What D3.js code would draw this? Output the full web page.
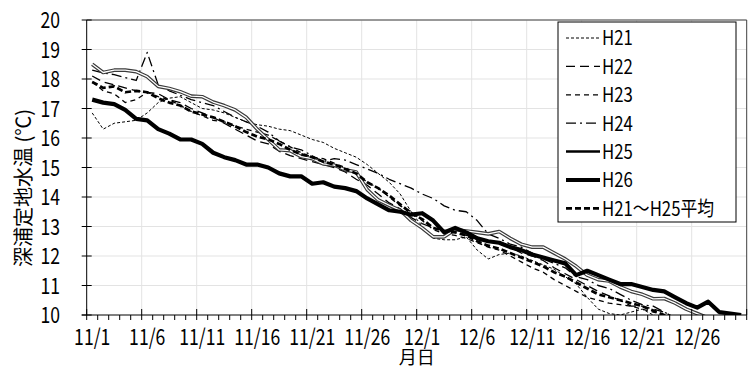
<!DOCTYPE html>
<html>
<head>
<meta charset="utf-8">
<script src="https://cdn.jsdelivr.net/npm/d3@7"></script>
<style>
  body { margin: 0; background: #fff; }
  svg { display: block; }
</style>
</head>
<body>
<div id="chart"></div>
<script>
var days = d3.range(1, 31).map(function (d) { return "11/" + d; })
  .concat(d3.range(1, 31).map(function (d) { return "12/" + d; }));

var yTicks = [10, 11, 12, 13, 14, 15, 16, 17, 18, 19, 20];

var h21 = [16.85, 16.3, 16.5, 16.55, 16.6, 16.85, 17.2, 17.35, 17.4, 17.2,
  17.0, 16.95, 16.85, 16.7, 16.55, 16.45, 16.4, 16.3, 16.25, 16.1,
  15.95, 15.85, 15.65, 15.5, 15.35, 15.1, 14.8, 14.5, 14.1, 13.5,
  13.0, 12.6, 12.55, 12.55, 12.65, 12.2, 11.9, 12.05, 12.1, 12.0,
  11.85, 11.7, 11.55, 11.3, 11.05, 10.6, 10.2, 10.05, 10.0, 10.1,
  10.2, 10.0, 9.9, 9.8, 9.8, 9.7, 9.6, 9.6, 9.5, 9.5];
var h22 = [18.1, 17.9, 17.8, 17.7, 17.6, 17.55, 17.5, 17.3, 17.2, 17.0,
  16.85, 16.7, 16.5, 16.3, 16.1, 15.9, 15.8, 15.55, 15.4, 15.3,
  15.2, 15.1, 15.0, 14.85, 14.6, 14.4, 14.1, 13.8, 13.6, 13.3,
  13.1, 12.95, 12.9, 12.85, 12.7, 12.6, 12.5, 12.4, 12.3, 12.1,
  12.0, 11.85, 11.6, 11.4, 11.2, 11.0, 10.8, 10.65, 10.5, 10.3,
  10.3, 10.2, 10.1, 9.9, 9.8, 9.7, 9.6, 9.5, 9.5, 9.4];
var h23 = [17.9, 17.6, 17.5, 17.2, 17.3, 17.55, 17.4, 17.3, 17.1, 16.9,
  16.75, 16.6, 16.55, 16.4, 16.3, 16.2, 16.1, 15.9, 15.7, 15.5,
  15.35, 15.3, 15.15, 15.0, 14.8, 14.5, 14.3, 14.0, 13.7, 13.5,
  13.2, 12.9, 12.75, 12.7, 12.6, 12.45, 12.3, 12.2, 12.0, 11.8,
  11.6, 11.45, 11.2, 11.0, 10.8, 10.6, 10.5, 10.4, 10.35, 10.3,
  10.2, 10.1, 10.0, 9.9, 9.8, 9.7, 9.6, 9.5, 9.5, 9.4];
var h24 = [18.3, 18.2, 18.15, 18.05, 17.95, 18.9, 17.8, 17.6, 17.45, 17.3,
  17.2, 17.1, 16.9, 16.7, 16.55, 16.4, 16.2, 15.9, 15.7, 15.6,
  15.4, 15.2, 15.3, 15.25, 15.1, 14.95, 14.8, 14.6, 14.45, 14.3,
  14.1, 13.95, 13.7, 13.55, 13.5, 13.2, 12.75, 12.6, 12.4, 12.3,
  12.1, 11.9, 11.75, 11.6, 11.3, 11.2, 11.0, 10.9, 10.7, 10.5,
  10.35, 10.3, 10.1, 9.9, 9.8, 9.7, 9.6, 9.5, 9.5, 9.4];
var h25 = [18.5, 18.22, 18.3, 18.3, 18.25, 18.08, 17.75, 17.68, 17.57, 17.42,
  17.4, 17.22, 17.1, 16.95, 16.7, 16.3, 15.95, 15.6, 15.57, 15.37,
  15.3, 15.12, 15.08, 14.92, 14.85, 14.25, 13.9, 13.72, 13.55, 13.2,
  12.95, 12.65, 12.65, 12.9, 12.85, 12.8, 12.75, 12.83, 12.6, 12.4,
  12.3, 12.3, 12.1, 11.9, 11.65, 11.35, 11.2, 11.15, 10.95, 10.8,
  10.7, 10.55, 10.56, 10.4, 10.2, 10.05, 9.9, 9.8, 9.7, 9.6];
var h26 = [17.3, 17.2, 17.15, 16.95, 16.65, 16.6, 16.3, 16.15, 15.95, 15.95,
  15.8, 15.5, 15.35, 15.25, 15.1, 15.1, 15.0, 14.8, 14.7, 14.7,
  14.45, 14.5, 14.35, 14.3, 14.2, 13.95, 13.75, 13.55, 13.5, 13.4,
  13.45, 13.2, 12.8, 12.95, 12.8, 12.6, 12.5, 12.45, 12.3, 12.2,
  12.05, 11.95, 11.85, 11.75, 11.35, 11.5, 11.35, 11.2, 11.05, 11.05,
  10.95, 10.85, 10.8, 10.6, 10.4, 10.25, 10.45, 10.1, 10.05, 10.0];
var avg = [17.9, 17.7, 17.75, 17.55, 17.6, 17.55, 17.35, 17.2, 17.1, 16.9,
  16.8, 16.7, 16.55, 16.4, 16.2, 16.05, 15.95, 15.8, 15.6, 15.45,
  15.35, 15.2, 15.1, 14.95, 14.8, 14.5, 14.3, 14.05, 13.75, 13.45,
  13.25, 12.95, 12.85, 12.8, 12.7, 12.5, 12.35, 12.25, 12.1, 11.95,
  11.8, 11.65, 11.45, 11.3, 11.1, 10.9, 10.7, 10.6, 10.5, 10.4,
  10.3, 10.15, 10.0, 9.9, 9.8, 9.7, 9.6, 9.5, 9.5, 9.4];

var seriesNames = ["H21", "H22", "H23", "H24", "H25", "H26", "H21\uFF5EH25\u5E73\u5747"];
var seriesValues = [h21, h22, h23, h24, h25, h26, avg];

var width = 752, height = 368;
var plotL = 86.7, plotR = 746.7, plotT = 20, plotB = 315;
var font = "'Noto Sans CJK JP', 'Noto Sans', sans-serif";
var squeeze = 0.8; // narrow half-width digits like the original gothic face

var svg = d3.select("#chart").append("svg")
  .attr("width", width)
  .attr("height", height);

var x = d3.scaleBand().domain(days).range([plotL, plotR]).padding(0);
var y = d3.scaleLinear().domain([10, 20]).range([plotB, plotT]);
function cx(i) { return x(days[i]) + x.bandwidth() / 2; }

svg.append("defs").append("clipPath").attr("id", "plotClip")
  .append("rect")
  .attr("x", plotL).attr("y", plotT)
  .attr("width", plotR - plotL).attr("height", plotB - plotT);

// horizontal gridlines
svg.selectAll(".hgrid").data(yTicks.slice(1)).enter().append("line")
  .attr("x1", plotL).attr("x2", plotR)
  .attr("y1", function (d) { return y(d); }).attr("y2", function (d) { return y(d); })
  .style("stroke", "#e3e3e3").style("stroke-width", "1px");

// vertical gridlines every 5 days
var majorIdx = d3.range(5, 60, 5);
svg.selectAll(".vgrid").data(majorIdx).enter().append("line")
  .attr("x1", function (i) { return x(days[i]); }).attr("x2", function (i) { return x(days[i]); })
  .attr("y1", plotT).attr("y2", plotB)
  .style("stroke", "#e3e3e3").style("stroke-width", "1px");

// plot border top/right
svg.append("path")
  .attr("d", "M" + plotL + "," + plotT + "H" + plotR + "V" + plotB)
  .style("fill", "none").style("stroke", "#404040").style("stroke-width", "1px");

// series lines
var line = d3.line()
  .x(function (d, i) { return cx(i); })
  .y(function (d) { return y(d); });

var styles = [
  { w: 1, dash: "3,2" },
  { w: 1.3, dash: "9,5" },
  { w: 1.3, dash: "5,4" },
  { w: 1.3, dash: "10,4,2,4" },
  { w: 2.5, dash: null },
  { w: 4.2, dash: null },
  { w: 2.7, dash: "6,3" }
];

var plot = svg.append("g").attr("clip-path", "url(#plotClip)");

seriesValues.forEach(function (vals, k) {
  var st = styles[k];
  if (k === 4) {
    // H25 shows as a double line in the plot
    plot.append("path").attr("d", line(vals))
      .style("fill", "none").style("stroke", "#3a3a3a").style("stroke-width", "3.6px")
      .style("stroke-linejoin", "round");
    plot.append("path").attr("d", line(vals))
      .style("fill", "none").style("stroke", "#fff").style("stroke-width", "1.3px")
      .style("stroke-linejoin", "round");
    return;
  }
  plot.append("path").attr("d", line(vals))
    .style("fill", "none")
    .style("stroke", "#000")
    .style("stroke-width", st.w + "px")
    .style("stroke-dasharray", st.dash)
    .style("stroke-linejoin", "round");
});

// y axis
svg.append("line").attr("x1", plotL).attr("x2", plotL).attr("y1", plotT).attr("y2", plotB)
  .style("stroke", "#000").style("stroke-width", "1px");
svg.selectAll(".ytick").data(yTicks).enter().append("line")
  .attr("x1", plotL - 5).attr("x2", plotL + 5)
  .attr("y1", function (d) { return y(d); }).attr("y2", function (d) { return y(d); })
  .style("stroke", "#000").style("stroke-width", "1px");
svg.selectAll(".ylab").data(yTicks).enter().append("text")
  .attr("transform", function (d) { return "translate(60," + y(d) + ") scale(" + squeeze + ",1)"; })
  .attr("dy", "0.37em")
  .attr("text-anchor", "end")
  .style("font-family", font).style("font-size", "22px").style("fill", "#000")
  .text(function (d) { return d; });

// x axis
svg.append("line").attr("x1", plotL - 5).attr("x2", plotR).attr("y1", plotB).attr("y2", plotB)
  .style("stroke", "#000").style("stroke-width", "1px");
var allIdx = d3.range(0, 61);
svg.selectAll(".xtick").data(allIdx).enter().append("line")
  .attr("x1", function (i) { return plotL + i * x.bandwidth(); })
  .attr("x2", function (i) { return plotL + i * x.bandwidth(); })
  .attr("y1", function (i) { return i % 5 === 0 ? plotB - 6 : plotB; })
  .attr("y2", plotB + 5)
  .style("stroke", "#000").style("stroke-width", "1px");
svg.selectAll(".xlab").data(d3.range(0, 60, 5)).enter().append("text")
  .attr("transform", function (i) { return "translate(" + cx(i) + ",345) scale(" + squeeze + ",1)"; })
  .attr("text-anchor", "middle")
  .style("font-family", font).style("font-size", "22px").style("fill", "#000")
  .text(function (i) { return days[i]; });

// axis titles
svg.append("text")
  .attr("x", (plotL + plotR) / 2).attr("y", 364)
  .attr("text-anchor", "middle")
  .style("font-family", font).style("font-size", "18px").style("fill", "#000")
  .text("\u6708\u65E5");
svg.append("text")
  .attr("transform", "translate(31,188) rotate(-90)")
  .attr("text-anchor", "middle")
  .style("font-family", font).style("font-size", "20px").style("fill", "#000")
  .text("\u6DF1\u6D66\u5B9A\u5730\u6C34\u6E29 (\u2103)");

// legend
var lg = svg.append("g");
lg.append("rect").attr("x", 558).attr("y", 22).attr("width", 178).attr("height", 200)
  .style("fill", "#fff").style("stroke", "#000").style("stroke-width", "1px");
seriesNames.forEach(function (name, k) {
  var st = styles[k];
  var ly = 38 + k * 28.4;
  lg.append("line").attr("x1", 566).attr("x2", 600).attr("y1", ly).attr("y2", ly)
    .style("stroke", "#000")
    .style("stroke-width", (k === 4 ? 2.5 : st.w) + "px")
    .style("stroke-dasharray", st.dash);
  lg.append("text")
    .attr("transform", "translate(602," + ly + ") scale(0.84,1)")
    .attr("dy", "0.37em")
    .style("font-family", font).style("font-size", "20px").style("fill", "#000")
    .text(name);
});
</script>
</body>
</html>
